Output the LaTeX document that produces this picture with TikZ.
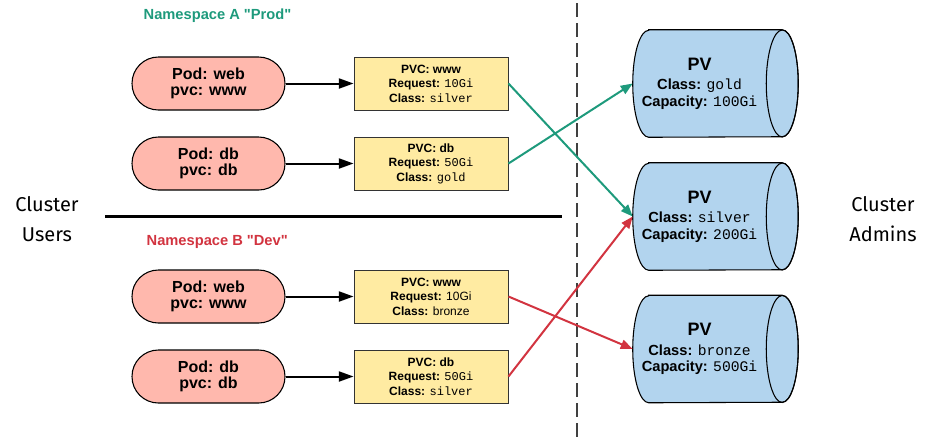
\documentclass[tikz,border=0pt]{standalone}
\usepackage{fontspec}
\setmainfont{Liberation Sans}
\setmonofont{Liberation Mono}
\newfontfamily\clusterfont{Fira Sans}
\newfontfamily\nsfont{Liberation Sans}[Ligatures=TeXOff]
\usetikzlibrary{arrows.meta}
\definecolor{prodteal}{HTML}{1E9A7C}
\definecolor{devred}{HTML}{D23440}
\definecolor{podfill}{HTML}{FFB8AD}
\definecolor{pvcfill}{HTML}{FFEBA2}
\definecolor{pvfill}{HTML}{B2D4EE}
\newcommand{\pvval}[1]{{\normalfont\ttfamily #1}}
\begin{document}
\begin{tikzpicture}[x=0.75pt, y=-0.75pt,
    pod/.style={draw, line width=0.8pt, fill=podfill, rounded corners=19.8pt,
        minimum width=114.75pt, minimum height=39.75pt, align=center,
        font=\fontsize{12}{12.5}\selectfont\bfseries},
    pvc/.style={draw=black!80, line width=0.7pt, fill=pvcfill,
        minimum width=115.5pt, minimum height=39.75pt, align=center,
        font=\fontsize{9}{10.9}\selectfont\bfseries},
    pv/.style={minimum width=99.75pt, minimum height=80.25pt, align=center,
        font=\fontsize{11}{12.5}\selectfont\bfseries},
    claimarrow/.style={line width=1.5pt, -{Triangle[length=11pt, width=7.5pt]}},
    bindarrow/.style={line width=1.5pt, -{Triangle[length=9pt, width=7pt]}},
    nslabel/.style={anchor=west, font=\nsfont\fontsize{11}{13}\selectfont\bfseries},
    cluster/.style={align=center, font=\clusterfont\fontsize{15}{22.5}\selectfont}]
    \useasboundingbox (0,0) rectangle (932,440);

    % separators
    \draw[line width=1.8pt] (105,216.5) -- (562,216.5);
    \draw[line width=0.8pt, black!75, dash pattern=on 10.5pt off 4.5pt] (577,3) -- (577,440);

    \node[cluster] (users) at (47,219) {Cluster\\Users};
    \node[cluster] (admins) at (883,219) {Cluster\\Admins};

    \node[nslabel, prodteal] (nsprod) at (139,16) {Namespace A "Prod"};
    \node[nslabel, devred] (nsdev) at (142,242) {Namespace B "Dev"};

    % pods
    \node[pod] (podprodweb) at (208.5,83.5) {Pod: web\\pvc: www};
    \node[pod] (podproddb) at (208.5,163.5) {Pod: db\\pvc: db};
    \node[pod] (poddevweb) at (208.5,296.5) {Pod: web\\pvc: www};
    \node[pod] (poddevdb) at (208.5,376.5) {Pod: db\\pvc: db};

    % claims
    \node[pvc] (pvcprodwww) at (431,83.5) {PVC: www\\Request: \pvval{10Gi}\\Class: \pvval{silver}};
    \node[pvc] (pvcproddb) at (431,163.5) {PVC: db\\Request: \pvval{50Gi}\\Class: \pvval{gold}};
    \node[pvc] (pvcdevwww) at (431,296.5) {PVC: www\\Request: {\normalfont 10Gi}\\Class: {\normalfont bronze}};
    \node[pvc] (pvcdevdb) at (431,376.5) {PVC: db\\Request: \pvval{50Gi}\\Class: \pvval{silver}};

    % volumes
    \node[pv] (pvgold) at (699.5,83.5) {};
    \node[pv] (pvsilver) at (699.5,216.5) {};
    \node[pv] (pvbronze) at (699.5,349) {};
    \foreach \v in {pvgold, pvsilver, pvbronze} {
        \filldraw[fill=pvfill, line width=0.8pt]
            ([xshift=12pt]\v.north west) -- ([xshift=12pt]\v.north east)
            arc[start angle=90, end angle=-90, x radius=12pt, y radius=40.125pt]
            -- ([xshift=12pt]\v.south west)
            arc[start angle=270, end angle=90, x radius=12pt, y radius=40.125pt] -- cycle;
        \draw[line width=0.8pt] ([xshift=12pt]\v.east) ellipse[x radius=12pt, y radius=40.125pt];
    }
    \node[pv] at (pvgold) {{\fontsize{13.5}{14}\selectfont PV}\\[2pt]Class: \pvval{gold}\\Capacity: \pvval{100Gi}};
    \node[pv] at (pvsilver) {{\fontsize{13.5}{14}\selectfont PV}\\[2pt]Class: \pvval{silver}\\Capacity: \pvval{200Gi}};
    \node[pv] at (pvbronze) {{\fontsize{13.5}{14}\selectfont PV}\\[2pt]Class: \pvval{bronze}\\Capacity: \pvval{500Gi}};

    % pod -> claim
    \draw[claimarrow] (podprodweb) -- (pvcprodwww);
    \draw[claimarrow] (podproddb) -- (pvcproddb);
    \draw[claimarrow] (poddevweb) -- (pvcdevwww);
    \draw[claimarrow] (poddevdb) -- (pvcdevdb);

    % claim -> volume
    \draw[bindarrow, prodteal] (pvcprodwww.east) -- (pvsilver.west);
    \draw[bindarrow, prodteal] (pvcproddb.east) -- (pvgold.west);
    \draw[bindarrow, devred] (pvcdevwww.east) -- (pvbronze.west);
    \draw[bindarrow, devred] (pvcdevdb.east) -- (pvsilver.west);
\end{tikzpicture}
\end{document}
